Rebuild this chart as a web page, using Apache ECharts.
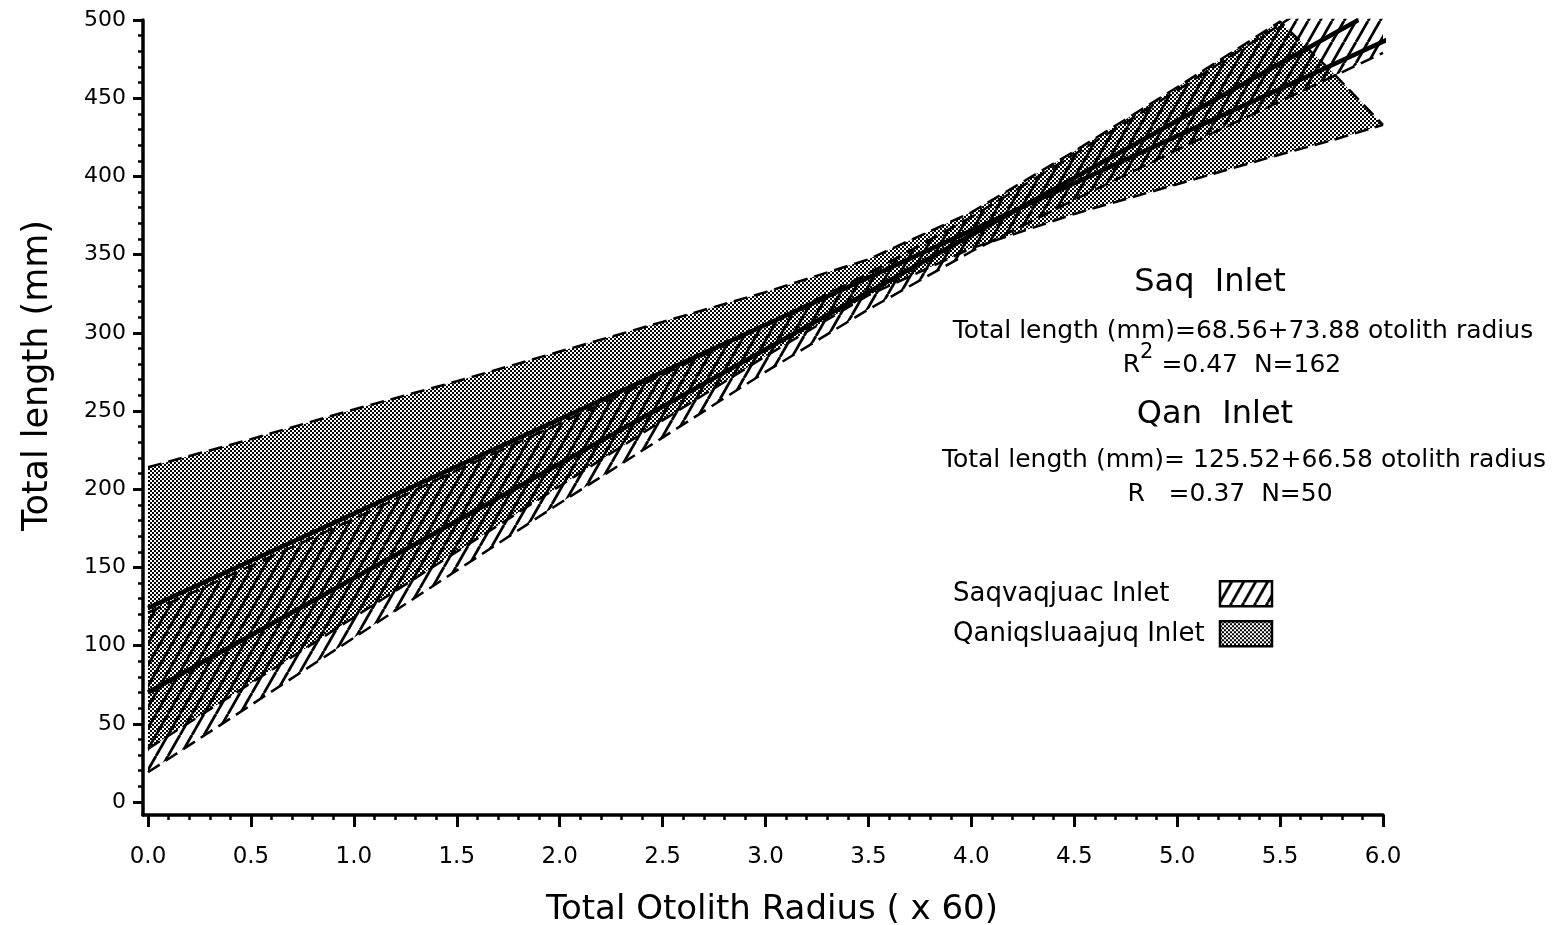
<!DOCTYPE html>
<html>
<head>
<meta charset="utf-8">
<script src="https://cdn.jsdelivr.net/npm/echarts@6/dist/echarts.min.js"></script>
<style>
html,body{margin:0;padding:0;background:#fff;}
#chart{width:1558px;height:925px;}
</style>
</head>
<body>
<div id="chart"></div>
<script>
// ---------- data ----------
// Qaniqsluaajuq Inlet confidence band (stippled)
const qanX     = [0, 0.5, 1.0, 1.5, 2.0, 2.5, 3.0, 3.5, 4.0, 4.5, 5.0, 5.5, 5.75, 6.0];
const qanUpper = [214, 232, 251, 269, 288, 307, 326, 347, 377, 416, 457, 499, 467, 433];
const qanLower = [34, 76, 118, 160, 202, 244, 285, 324, 354, 376, 395, 414, 423, 433];
// Saqvaqjuac Inlet confidence band (hatched)
const saqX     = [0, 0.5, 1.0, 1.5, 2.0, 2.5, 3.0, 3.5, 4.0, 4.5, 5.0, 5.5, 6.0];
const saqUpper = [121, 151, 181, 212, 242, 273, 305, 338, 374, 414, 455, 497, 540];
const saqLower = [19, 62, 105, 148, 191, 233, 275, 315, 352, 385, 417, 448, 479];
// regression lines (end points)
const qanLineX = [0, 6.08];
const qanLineY = [124, 491];
const saqLineX = [0, 5.88];
const saqLineY = [70, 500];
// ticks
const xMajor = [0, 0.5, 1.0, 1.5, 2.0, 2.5, 3.0, 3.5, 4.0, 4.5, 5.0, 5.5, 6.0];
const yMajor = [0, 50, 100, 150, 200, 250, 300, 350, 400, 450, 500];
const xMinor = [];
for (let i = 1; i < 60; i++) { if (i % 5 !== 0) xMinor.push(i / 10); }
const yMinor = [];
for (let v = 10; v < 500; v += 10) { if (v % 50 !== 0) yMinor.push(v); }
const legendNames = ['Saqvaqjuac Inlet', 'Qaniqsluaajuq Inlet'];

// ---------- patterns ----------
function makeHatch() {
  const c = document.createElement('canvas');
  c.width = 12; c.height = 21;
  const g = c.getContext('2d');
  g.strokeStyle = '#000'; g.lineWidth = 2.8;
  for (let k = -1; k <= 1; k++) {
    g.beginPath(); g.moveTo(k * 12, 21); g.lineTo(k * 12 + 12, 0); g.stroke();
  }
  return c;
}
function makeStipple() {
  const c = document.createElement('canvas');
  c.width = 4; c.height = 4;
  const g = c.getContext('2d');
  g.fillStyle = '#000';
  g.fillRect(0, 0, 2, 2);
  g.fillRect(2, 2, 2, 2);
  return c;
}
const hatch = { image: makeHatch(), repeat: 'repeat' };
const stipple = { image: makeStipple(), repeat: 'repeat' };

const FONT = "'DejaVu Sans', sans-serif";
const xMin = -0.0243;
const yMin = -8.31;

// rows are [y, x] so that the stack is applied to the y values (encode below)
const rows = (xs, ys) => xs.map((x, i) => [ys[i], x]);
const diffRows = (xs, up, lo) => xs.map((x, i) => [up[i] - lo[i], x]);
const enc = { x: 1, y: 0 };
const dashed = { color: '#000', width: 2.5, type: [14, 7] };

const chart = echarts.init(document.getElementById('chart'));
chart.setOption({
  animation: false,
  backgroundColor: '#fff',
  grid: { left: 143, right: 175, top: 20, bottom: 110, containLabel: false, outerBoundsMode: 'none' },
  xAxis: [
    {
      type: 'value', min: xMin, max: 6, position: 'bottom',
      axisLine: { show: true, onZero: false, lineStyle: { color: '#000', width: 3.5 } },
      axisTick: { show: true, customValues: xMajor, length: 12, lineStyle: { color: '#000', width: 3 } },
      axisLabel: { customValues: xMajor, formatter: v => v.toFixed(1), fontSize: 23, fontFamily: FONT, color: '#000', margin: 31 },
      splitLine: { show: false },
      name: 'Total Otolith Radius ( x 60)', nameLocation: 'middle', nameGap: 78,
      nameTextStyle: { fontSize: 34, fontFamily: FONT, color: '#000', padding: [0, 0, 0, 18] }
    },
    {
      type: 'value', min: xMin, max: 6, position: 'bottom',
      axisLine: { show: false, onZero: false },
      axisTick: { show: true, customValues: xMinor, length: 5, lineStyle: { color: '#000', width: 2.5 } },
      axisLabel: { show: false }, splitLine: { show: false }
    }
  ],
  yAxis: [
    {
      type: 'value', min: yMin, max: 500, position: 'left',
      axisLine: { show: true, onZero: false, lineStyle: { color: '#000', width: 3.5 } },
      axisTick: { show: true, customValues: yMajor, length: 10, lineStyle: { color: '#000', width: 3 } },
      axisLabel: { customValues: yMajor, fontSize: 22, fontFamily: FONT, color: '#000', margin: 17 },
      splitLine: { show: false },
      name: 'Total length (mm)', nameLocation: 'middle', nameRotate: 90, nameGap: 88,
      nameTextStyle: { fontSize: 35, fontFamily: FONT, color: '#000', padding: [0, 0, 0, 84] }
    },
    {
      type: 'value', min: yMin, max: 500, position: 'left',
      axisLine: { show: false, onZero: false },
      axisTick: { show: true, customValues: yMinor, length: 5, lineStyle: { color: '#000', width: 2.5 } },
      axisLabel: { show: false }, splitLine: { show: false }
    }
  ],
  legend: [
    {
      left: 948, top: 575, align: 'right', orient: 'vertical', icon: 'rect',
      itemWidth: 52, itemHeight: 25, selectedMode: false,
      data: [{ name: legendNames[0], itemStyle: { color: hatch, borderColor: '#000', borderWidth: 2.5 } }],
      formatter: n => '{t|' + n + '}',
      textStyle: { rich: { t: { width: 262, align: 'left', fontSize: 26, fontFamily: FONT, color: '#000' } } }
    },
    {
      left: 948, top: 615, align: 'right', orient: 'vertical', icon: 'rect',
      itemWidth: 52, itemHeight: 25, selectedMode: false,
      data: [{ name: legendNames[1], itemStyle: { color: stipple, borderColor: '#000', borderWidth: 2.5 } }],
      formatter: n => '{t|' + n + '}',
      textStyle: { rich: { t: { width: 262, align: 'left', fontSize: 26, fontFamily: FONT, color: '#000' } } }
    }
  ],
  graphic: [
    { type: 'text', x: 1210, y: 283, style: { text: 'Saq  Inlet', fontSize: 32, fontFamily: FONT, fill: '#000', align: 'center', verticalAlign: 'middle' } },
    { type: 'text', x: 1243, y: 331, style: { text: 'Total length (mm)=68.56+73.88 otolith radius', fontSize: 25, fontFamily: FONT, fill: '#000', align: 'center', verticalAlign: 'middle' } },
    { type: 'text', x: 1232, y: 360, style: {
        text: '{m|R}{s|2}{m| =0.47  N=162}', align: 'center', verticalAlign: 'middle', fill: '#000',
        rich: {
          m: { fontSize: 25, fontFamily: FONT, lineHeight: 36, verticalAlign: 'bottom' },
          s: { fontSize: 21, fontFamily: FONT, lineHeight: 36, verticalAlign: 'top' }
        } } },
    { type: 'text', x: 1215, y: 415, style: { text: 'Qan  Inlet', fontSize: 32, fontFamily: FONT, fill: '#000', align: 'center', verticalAlign: 'middle' } },
    { type: 'text', x: 1244, y: 460, style: { text: 'Total length (mm)= 125.52+66.58 otolith radius', fontSize: 25, fontFamily: FONT, fill: '#000', align: 'center', verticalAlign: 'middle' } },
    { type: 'text', x: 1230, y: 494, style: { text: 'R   =0.37  N=50', fontSize: 25, fontFamily: FONT, fill: '#000', align: 'center', verticalAlign: 'middle' } }
  ],
  series: [
    { name: 'Qan lower', type: 'line', stack: 'qan', encode: enc, data: rows(qanX, qanLower), symbol: 'none', lineStyle: dashed, z: 2, silent: true },
    { name: legendNames[1], type: 'line', stack: 'qan', encode: enc, data: diffRows(qanX, qanUpper, qanLower), symbol: 'none',
      lineStyle: dashed, itemStyle: { color: '#000' }, areaStyle: { color: stipple, opacity: 1 }, z: 2 },
    { name: 'Saq lower', type: 'line', stack: 'saq', encode: enc, data: rows(saqX, saqLower), symbol: 'none', lineStyle: dashed, z: 3, silent: true },
    { name: legendNames[0], type: 'line', stack: 'saq', encode: enc, data: diffRows(saqX, saqUpper, saqLower), symbol: 'none',
      lineStyle: dashed, itemStyle: { color: '#000' }, areaStyle: { color: hatch, opacity: 1 }, z: 3 },
    { name: 'Qan regression', type: 'line', encode: enc, data: rows(qanLineX, qanLineY), symbol: 'none', clip: false,
      lineStyle: { color: '#000', width: 4.5 }, z: 5 },
    { name: 'Saq regression', type: 'line', encode: enc, data: rows(saqLineX, saqLineY), symbol: 'none', clip: false,
      lineStyle: { color: '#000', width: 4.5 }, z: 5 }
  ]
});
</script>
</body>
</html>
